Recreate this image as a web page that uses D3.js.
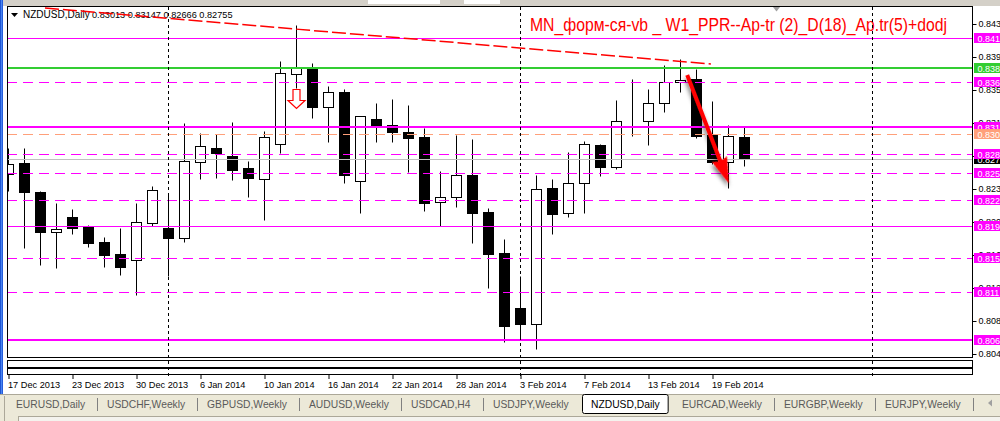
<!DOCTYPE html>
<html>
<head>
<meta charset="utf-8">
<script src="https://cdn.jsdelivr.net/npm/d3@7"></script>
<style>
html, body { margin: 0; padding: 0; background: #fff; overflow: hidden; }
svg { display: block; }
text { font-family: "Liberation Sans", Arial, sans-serif; }
</style>
</head>
<body>
<div id="chart"></div>
<script>
// NZDUSD daily candles, 17 Dec 2013 .. 21 Feb 2014

var symbol = "NZDUSD,Daily";
var title = "MN_форм-ся-vb _ W1_PPR--Ap-tr (2)_D(18)_Ap.tr(5)+dodj";

var opens  = [0.82575,0.82705,0.82361,0.81885,0.82066,0.81951,0.81770,0.81628,0.81560,0.81998,
              0.81939,0.81814,0.82720,0.82882,0.82788,0.82645,0.82519,0.82926,0.83754,0.83825,
              0.83364,0.83545,0.82488,0.83225,0.83154,0.83072,0.83012,0.82240,0.82299,0.82563,
              0.82125,0.81640,0.80989,0.80796,0.82409,0.82109,0.82464,0.82918,0.82663,0.83188,
              0.83198,0.83411,0.83660,0.83699,0.83036,0.82720,0.83013];
var highs  = [0.82882,0.82879,0.82372,0.82228,0.82160,0.81967,0.81829,0.81935,0.82231,0.82432,
              0.82346,0.83178,0.83060,0.83044,0.83190,0.82728,0.83080,0.83912,0.84338,0.83885,
              0.83616,0.83580,0.83265,0.83418,0.83462,0.83391,0.83122,0.82610,0.83036,0.82989,
              0.82169,0.81805,0.81367,0.82563,0.82515,0.82831,0.82965,0.82925,0.83450,0.83699,
              0.83580,0.83864,0.83932,0.83814,0.83438,0.83154,0.83147];
var lows   = [0.82373,0.81702,0.81501,0.81466,0.81868,0.81714,0.81477,0.81383,0.81146,0.81959,
              0.81367,0.81773,0.82515,0.82531,0.82503,0.82302,0.82034,0.82827,0.83589,0.83241,
              0.82957,0.82472,0.82117,0.82957,0.82957,0.82602,0.82140,0.81959,0.82188,0.81761,
              0.81229,0.80586,0.80634,0.80503,0.81861,0.82069,0.82109,0.82554,0.82634,0.83028,
              0.82921,0.83312,0.83548,0.83004,0.82693,0.82412,0.82666];
var closes = [0.82693,0.82365,0.81892,0.81920,0.81939,0.81761,0.81619,0.81477,0.82003,0.82385,
              0.81821,0.82728,0.82906,0.82827,0.82625,0.82531,0.83012,0.83766,0.83825,0.83371,
              0.83541,0.82566,0.83257,0.83134,0.83075,0.83004,0.82235,0.82299,0.82563,0.82117,
              0.81628,0.80779,0.80796,0.82393,0.82105,0.82464,0.82926,0.82661,0.83202,0.83192,
              0.83411,0.83660,0.83687,0.83028,0.82720,0.83021,0.82755];

var dateTickBars = [0, 4, 8, 12, 16, 20, 24, 28, 32, 36, 40, 44];
var dateLabels = ["17 Dec 2013", "23 Dec 2013", "30 Dec 2013", "6 Jan 2014", "10 Jan 2014",
                  "16 Jan 2014", "22 Jan 2014", "28 Jan 2014", "3 Feb 2014", "7 Feb 2014",
                  "13 Feb 2014", "19 Feb 2014"];
var monthStartBars = [10, 32, 54];

var priceTicks = [0.84350, 0.83959, 0.83569, 0.83178, 0.82788, 0.82397, 0.82007, 0.81616, 0.81226, 0.80835, 0.80445];
var priceTickLabels = ["0.843", "0.839", "0.835", "0.831", "0.827", "0.823", "0.820", "0.816", "0.812", "0.808", "0.804"];

// horizontal levels drawn on the chart
var levelValues = [0.84184, 0.83829, 0.83663, 0.83131, 0.83048, 0.82811, 0.82586, 0.82267, 0.81959, 0.81580, 0.81178, 0.80610];
var levelLabels = ["0.841", "0.838", "0.836", "0.831", "0.830", "0.828", "0.825", "0.822", "0.819", "0.815", "0.811", "0.806"];
var levelKinds  = ["solid", "green", "dash", "thick", "salmon", "dash", "dash", "dash", "solid", "dash", "dash", "thick"];
var bidLabel = "0.827";

// trend line and arrow objects: [bar, price]
var trendLine = [[2.28, 0.84539], [43.9, 0.83876]];
var bigArrow = [[42.42, 0.83746], [45.02, 0.82464]];
var sellMarkBar = 18;

var tabNames = ["EURUSD,Daily", "USDCHF,Weekly", "GBPUSD,Weekly", "AUDUSD,Weekly", "USDCAD,H4",
                "USDJPY,Weekly", "NZDUSD,Daily", "EURCAD,Weekly", "EURGBP,Weekly", "EURJPY,Weekly"];
var activeTab = 6;

var levelStyle = {
    solid:  { color: "#ff00ff", width: 1, dash: null },
    thick:  { color: "#ff00ff", width: 2, dash: null },
    dash:   { color: "#ff00ff", width: 1, dash: "10,6" },
    green:  { color: "#32cd32", width: 2, dash: null },
    salmon: { color: "#ffa07a", width: 1, dash: "10,6" }
};

var W = 1000, H = 421;
var plotL = 7, plotR = 972, plotT = 7, plotB = 358;

var svg = d3.select("#chart").append("svg")
    .attr("width", W)
    .attr("height", H);

var defs = svg.append("defs");
defs.append("clipPath").attr("id", "plot")
  .append("rect")
    .attr("x", plotL + 1).attr("y", plotT)
    .attr("width", plotR - plotL - 1).attr("height", plotB - plotT - 1);
var grad = defs.append("linearGradient").attr("id", "edge");
grad.append("stop").attr("offset", "0%").attr("stop-color", "#0a3cc4");
grad.append("stop").attr("offset", "50%").attr("stop-color", "#4a86f2");
grad.append("stop").attr("offset", "100%").attr("stop-color", "#1448d0");
var shadow = defs.append("filter").attr("id", "shadow")
    .attr("x", "-50%").attr("y", "-50%").attr("width", "200%").attr("height", "200%");
shadow.append("feDropShadow")
    .attr("dx", 3).attr("dy", 2).attr("stdDeviation", 2)
    .attr("flood-color", "#000").attr("flood-opacity", 0.55);

// window chrome
svg.append("rect").attr("width", W).attr("height", H).attr("fill", "#fff");
svg.append("rect").attr("width", W).attr("height", 6).attr("fill", "#d4d0c8");
svg.append("rect").attr("x", 368).attr("y", 0).attr("width", 72).attr("height", 4).attr("fill", "#fff");
svg.append("rect").attr("x", 464).attr("y", 0).attr("width", 36).attr("height", 4).attr("fill", "#fff");
svg.append("rect").attr("width", 3).attr("height", 395).attr("fill", "url(#edge)");

var x = d3.scaleLinear().domain([0, 1]).range([8.5, 24.5]);
var y = d3.scaleLinear().domain([0.8061, 0.8061 + 340 / 8450]).range([340, 0]);
function py(p) { return Math.round(y(p)) + 0.5; }

// header
svg.append("path")
    .attr("d", "M11,13 L18,13 L14.5,17 Z")
    .attr("fill", "#000");
var last = opens.length - 1;
var header = svg.append("text")
    .attr("x", 23).attr("y", 18)
    .attr("font-size", 10)
    .attr("fill", "#000");
header.append("tspan").text(symbol);
header.append("tspan").attr("x", 92).attr("font-size", 9.2)
    .text([opens[last], highs[last], lows[last], closes[last]].map(d3.format(".5f")).join(" "));

svg.append("text")
    .attr("x", 530).attr("y", 31)
    .attr("font-size", 19)
    .attr("font-family", "'Liberation Sans Narrow', 'Liberation Sans', Arial, sans-serif")
    .attr("textLength", 417)
    .attr("lengthAdjust", "spacingAndGlyphs")
    .attr("fill", "#ff0000")
    .text(title);

svg.append("path")
    .attr("d", "M773,7 L780,7 L776.5,11.5 Z")
    .attr("fill", "#a0a0a0");

var plot = svg.append("g").attr("clip-path", "url(#plot)");

// candles
var idx = d3.range(opens.length);
var candle = plot.selectAll(".candle")
    .data(idx)
  .enter().append("g")
    .attr("class", "candle");
candle.append("line")
    .attr("x1", function(i) { return x(i); })
    .attr("x2", function(i) { return x(i); })
    .attr("y1", function(i) { return py(highs[i]); })
    .attr("y2", function(i) { return py(lows[i]); })
    .attr("stroke", "#000");
candle.append("rect")
    .attr("x", function(i) { return x(i) - 5; })
    .attr("y", function(i) { return py(Math.max(opens[i], closes[i])); })
    .attr("width", 10)
    .attr("height", function(i) { return py(Math.min(opens[i], closes[i])) - py(Math.max(opens[i], closes[i])); })
    .attr("fill", function(i) { return closes[i] >= opens[i] ? "#fff" : "#000"; })
    .attr("stroke", "#000");

// levels
plot.append("line")
    .attr("x1", plotL).attr("x2", plotR)
    .attr("y1", py(closes[last])).attr("y2", py(closes[last]))
    .attr("stroke", "#c0c0c0");

plot.selectAll(".level")
    .data(levelValues)
  .enter().append("line")
    .attr("class", "level")
    .attr("x1", plotL).attr("x2", plotR)
    .attr("y1", function(d, i) { var s = levelStyle[levelKinds[i]]; return s.width % 2 ? py(d) : Math.round(y(d)); })
    .attr("y2", function(d, i) { var s = levelStyle[levelKinds[i]]; return s.width % 2 ? py(d) : Math.round(y(d)); })
    .attr("stroke", function(d, i) { return levelStyle[levelKinds[i]].color; })
    .attr("stroke-width", function(d, i) { return levelStyle[levelKinds[i]].width; })
    .attr("stroke-dasharray", function(d, i) { return levelStyle[levelKinds[i]].dash; });

// trend line
plot.append("line")
    .attr("x1", x(trendLine[0][0])).attr("y1", y(trendLine[0][1]))
    .attr("x2", x(trendLine[1][0])).attr("y2", y(trendLine[1][1]))
    .attr("stroke", "#ff0000")
    .attr("stroke-width", 1.5)
    .attr("stroke-dasharray", "14,4");

// sell mark under bar 18
var sx = x(sellMarkBar), sy = Math.round(y(lows[sellMarkBar])) + 1.5;
plot.append("path")
    .attr("d", "M" + (sx - 3.5) + "," + sy + " L" + (sx + 3.5) + "," + sy +
               " L" + (sx + 3.5) + "," + (sy + 11) + " L" + (sx + 8.5) + "," + (sy + 11) +
               " L" + sx + "," + (sy + 19) + " L" + (sx - 8.5) + "," + (sy + 11) +
               " L" + (sx - 3.5) + "," + (sy + 11) + " Z")
    .attr("fill", "#fff")
    .attr("stroke", "#ff0000")
    .attr("stroke-width", 1.2);

// big red arrow
var ax0 = x(bigArrow[0][0]), ay0 = y(bigArrow[0][1]);
var ax1 = x(bigArrow[1][0]), ay1 = y(bigArrow[1][1]);
var alen = Math.hypot(ax1 - ax0, ay1 - ay0);
var ang = Math.atan2(ay1 - ay0, ax1 - ax0) * 180 / Math.PI;
plot.append("path")
    .attr("transform", "translate(" + ax0 + "," + ay0 + ") rotate(" + ang + ")")
    .attr("d", "M0,-2 L" + (alen - 24) + ",-2 L" + (alen - 26) + ",-8 L" + alen + ",0 L" +
               (alen - 26) + ",8 L" + (alen - 24) + ",2 L0,2 Z")
    .attr("fill", "#ff0000")
    .attr("filter", "url(#shadow)");

// month separators
svg.selectAll(".sep")
    .data(monthStartBars)
  .enter().append("line")
    .attr("class", "sep")
    .attr("x1", function(d) { return x(d); })
    .attr("x2", function(d) { return x(d); })
    .attr("y1", plotT).attr("y2", 376)
    .attr("stroke", "#000")
    .attr("stroke-dasharray", "3,3");

// frames
svg.append("rect")
    .attr("x", plotL + 0.5).attr("y", plotT - 0.5)
    .attr("width", plotR - plotL).attr("height", plotB - plotT)
    .attr("fill", "none").attr("stroke", "#000");
svg.append("rect")
    .attr("x", plotL + 0.5).attr("y", 360.5).attr("width", plotR - plotL).attr("height", 7)
    .attr("fill", "none").attr("stroke", "#000");
svg.append("rect")
    .attr("x", plotL + 0.5).attr("y", 368.5).attr("width", plotR - plotL).attr("height", 6)
    .attr("fill", "none").attr("stroke", "#000");

// price axis
var yAxis = d3.axisRight(y)
    .tickValues(priceTicks)
    .tickFormat(function(d, i) { return priceTickLabels[i]; })
    .tickSize(4)
    .tickPadding(2);
var ya = svg.append("g")
    .attr("transform", "translate(" + (plotR + 0.5) + ",0.5)")
    .call(yAxis);
ya.select(".domain").remove();
ya.selectAll(".tick").attr("transform", function(d) { return "translate(0," + Math.round(y(d)) + ")"; });
ya.selectAll("text").attr("font-size", 9).attr("font-family", null).attr("dy", "0.33em").attr("fill", "#000");

function priceBox(value, label, color) {
    var cy = Math.round(y(value));
    svg.append("rect")
        .attr("x", 974).attr("y", cy - 5)
        .attr("width", 30).attr("height", 10)
        .attr("fill", color);
    svg.append("text")
        .attr("x", 977.5).attr("y", cy + 3.5)
        .attr("font-size", 9)
        .attr("fill", "#fff")
        .text(label);
}
priceBox(closes[last], bidLabel, "#000");
levelValues.forEach(function(v, i) {
    priceBox(v, levelLabels[i], levelStyle[levelKinds[i]].color);
});

// time axis
var xAxis = d3.axisBottom(x)
    .tickValues(dateTickBars)
    .tickFormat(function(d, i) { return dateLabels[i]; })
    .tickSize(4)
    .tickPadding(3);
var xa = svg.append("g")
    .attr("transform", "translate(0,375)")
    .call(xAxis);
xa.select(".domain").remove();
xa.selectAll("text")
    .attr("font-size", 9.2)
    .attr("font-family", null)
    .attr("text-anchor", "start")
    .attr("x", -1)
    .attr("dy", "0.7em")
    .attr("fill", "#000");

// tab bar
svg.append("rect").attr("x", 0).attr("y", 394).attr("width", W).attr("height", H - 394).attr("fill", "#ece9d8");
svg.append("line").attr("x1", 0).attr("x2", W).attr("y1", 394.5).attr("y2", 394.5).attr("stroke", "#aca899");
svg.append("rect").attr("x", 18.5).attr("y", 416.5).attr("width", 990).attr("height", 10)
    .attr("fill", "#f4f3ee").attr("stroke", "#aca899");
svg.append("line").attr("x1", 4.5).attr("x2", 4.5).attr("y1", 396).attr("y2", 421).attr("stroke", "#aca899");

var tabs = svg.append("g");
var cursor = 6;
tabNames.forEach(function(name, i) {
    var t = tabs.append("text")
        .attr("x", cursor + 10).attr("y", 408)
        .attr("font-size", 10.3)
        .attr("fill", i === activeTab ? "#000" : "#5a5a5a")
        .text(name);
    var w = t.node().getComputedTextLength();
    if (i === activeTab) {
        tabs.insert("rect", "text")
            .attr("x", cursor + 1.5).attr("y", 394.5)
            .attr("width", w + 17).attr("height", 19)
            .attr("rx", 2)
            .attr("fill", "#fff").attr("stroke", "#000");
    }
    var sepX = Math.round(cursor + 10 + w + 12) + 0.5;
    if (i !== activeTab && i + 1 !== activeTab) {
        tabs.append("line")
            .attr("x1", sepX).attr("x2", sepX)
            .attr("y1", 398).attr("y2", 411)
            .attr("stroke", "#808080");
    }
    cursor = sepX - 0.5;
});
svg.append("path")
    .attr("d", "M988,403 L992,399.5 L992,406.5 Z")
    .attr("fill", "#a0a0a0");
</script>
</body>
</html>
